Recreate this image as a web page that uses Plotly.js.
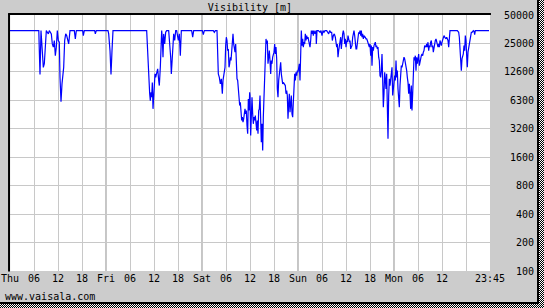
<!DOCTYPE html>
<html>
<head>
<meta charset="utf-8">
<script src="https://cdn.plot.ly/plotly-3.0.1.min.js"></script>
<style>
html,body{margin:0;padding:0;}
body{width:544px;height:308px;overflow:hidden;
  background:repeating-conic-gradient(#000 0% 25%, #fff 0% 50%) 0 0/2px 2px;}
#frame{width:537px;height:302px;border-right:2px solid #000;border-bottom:2px solid #000;background:#cccccc;}
#chart{width:537px;height:302px;}
</style>
</head>
<body>
<div id="frame"><div id="chart"></div></div>
<script>
// Time axis: hours since Thu 00:00
const xTickHours = [0,6,12,18,24,30,36,42,48,54,60,66,72,78,84,90,96,102,108,114,120];
const xTickText  = ['Thu','06','12','18','Fri','06','12','18','Sat','06','12','18','Sun','06','12','18','Mon','06','12','','23:45'];
const dayLines   = [24,48,72,96];

// Visibility axis (log, each grid step doubles)
const yTickVals = [100,200,400,800,1600,3200,6400,12800,25600,51200];
const yTickText = ['100','200','400','800','1600','3200','6300','12600','25000','50000'];

// Visibility readings [m]
const hoursThu = [0,7.2,7.33,7.5,7.75,8.08,8.33,8.58,8.83,9.08,9.33,9.58,9.83,10.08,10.33,10.58,10.83,11.08,11.33,11.58,11.83,12.08,12.33,12.5,12.75,13.0,13.17,13.42,13.67,13.92,14.17,14.42,14.67,15.0,16.08,16.33,16.58,18.17,18.33,18.58,21.17,21.33,21.58];
const visThu   = [35000,35000,21500,12000,35000,21500,14300,15600,25300,35000,33600,32300,35000,33600,32300,25300,23400,27500,19000,23400,35000,27500,26400,11200,6200,9550,11200,14300,27500,32300,31000,26400,25300,35000,35000,28600,35000,35000,31000,35000,35000,32300,35000];

const hoursFri = [24.5,24.67,25.0,25.25,25.5,25.75,34.17,34.33,34.58,34.75,34.92,35.08,35.25,35.42,35.58,35.75,35.92,36.08,36.25,36.42,36.67,36.92,37.17,37.33,37.58,37.75,37.92,38.08,38.25,38.42,38.67,38.92,39.17,39.67,39.92,40.17,40.33,40.5,40.75,40.92,41.17,41.42,41.67,42.08,42.33,42.58,42.83,45.42,45.67,45.92];
const visFri   = [35000,32300,21500,12000,21500,35000,35000,23400,14300,9550,7500,6360,7800,6900,9900,5200,7200,10800,12200,11200,12700,13800,10400,9170,14300,22400,35000,28600,18300,32300,25300,33600,35000,35000,27500,18300,12200,18300,23400,32300,27500,35000,35000,27500,32300,19000,35000,35000,29800,35000];

const hoursSatA = [48.08,48.33,48.58,50.83,51.08,51.33,51.75,51.92,52.08,52.33,52.58,52.83,53.08,53.25,53.5,53.75,53.92,54.08,54.25,54.42,54.58,54.75,54.92,55.08,55.25,55.42,55.58,55.75,55.92,56.08,56.25,56.42,56.58,56.75,56.92,57.08,57.25,57.42,57.58,57.75,57.92,58.08,58.25,58.42,58.58,58.75,58.92,59.08,59.25,59.42,59.58,59.75,59.92];
const visSatA   = [35000,31800,35000,35000,33600,35000,35000,21500,12200,11200,9550,10800,7500,10400,12700,14300,24300,29800,27500,21500,22400,14300,15600,18300,16900,20700,28600,32300,25300,23400,20700,25300,15600,10800,10400,7800,6360,5640,6110,4990,3920,4250,3760,4080,4990,5200,4600,4990,3470,2830,6600,4990,7800];

const hoursSatB = [
  60.0,60.17,60.33,60.5,60.67,60.83,
  61.0,61.17,61.33,61.5,61.67,61.83,
  62.0,62.17,62.33,62.5,62.67,62.83,
  63.0,63.17,63.33,63.5,63.67,63.83,
  64.0,64.17,64.33,64.5,64.67,64.83,
  65.0,65.17,65.33,65.5,65.67,65.83,
  66.0,66.17,66.33,66.5,66.67,66.83,
  67.0,67.17,67.33,67.5,67.67,67.83,
  68.0,68.17,68.33,68.5,68.67,68.83,
  69.0,69.17,69.33,69.5,69.67,69.83,
  70.0,70.17,70.33,70.5,70.67,70.83,
  71.0,71.17,71.33,71.5,71.67,71.83];
const visSatB = [
  7200,2720,5870,6900,4600,3610,
  4250,3920,4420,3760,3070,3920,
  2830,4990,5200,7200,4600,2310,
  3610,1880,4250,7500,13200,22400,
  28600,25300,27500,15600,18300,21500,
  16900,12200,16900,15600,18300,19800,
  20700,25300,19800,23400,17600,8460,
  6900,10400,12200,14300,16200,12200,
  9900,9550,9900,9550,9170,9170,
  7500,8120,7200,4080,5870,7500,
  4790,5870,7200,4600,4250,6110,
  8460,12200,10400,12700,11700,13200];

const hoursSun = [
  72.0,72.17,72.33,72.5,72.67,72.83,
  73.0,73.17,73.33,73.5,73.67,73.83,
  74.0,74.17,74.33,74.5,74.67,74.83,
  75.0,75.17,75.33,75.5,75.67,75.83,
  76.0,76.25,76.5,76.58,76.75,77.08,
  77.5,77.75,78.0,78.25,78.5,78.75,
  79.17,79.42,79.67,79.92,80.17,80.42,
  80.58,80.83,81.08,81.33,81.5,81.67,
  81.83,82.0,82.17,82.33,82.5,82.67,
  82.83,83.0,83.17,83.33,83.5,83.67,
  83.83,84.0,84.17,84.33,84.5,84.67,
  84.83,85.0,85.17,85.33,85.5,85.67,
  85.83,86.0,86.17,86.33,86.5,86.67,
  86.83,87.0,87.17,87.33,87.5,87.67,
  87.83,88.0,88.17,88.33,88.5,88.67,
  88.83,89.0,89.17,89.33,89.5,89.67,
  89.83];
const visSun = [
  12700,14300,15600,10400,19000,35000,
  24300,28600,23400,26400,25300,32300,
  27500,31000,28600,29800,27500,25300,
  23400,27500,35000,32300,35000,31000,
  35000,32300,35000,25300,35000,35000,
  33600,35000,31000,35000,33600,35000,
  35000,33600,32300,35000,33600,33600,
  27500,31000,32300,29800,26400,23400,
  25300,18300,21500,24300,27500,29800,
  22400,29800,32300,35000,32300,25300,
  28600,23400,27500,26400,31000,28600,
  26400,27500,22400,23400,24300,29800,
  32300,35000,31000,25300,22400,22400,
  27500,31000,33600,32300,35000,31000,
  35000,29800,32300,28600,31000,29800,
  29800,28600,28600,27500,26400,25300,
  23400];

const hoursMonA = [
  90.0,90.17,90.33,90.5,90.67,90.83,
  91.0,91.17,91.33,91.5,91.67,91.83,
  92.0,92.17,92.33,92.5,92.67,92.83,
  93.0,93.17,93.33,93.5,93.67,93.83,
  94.0,94.17,94.33,94.5,94.67,94.83,
  95.0,95.17,95.33,95.5,95.67,95.83,
  96.0,96.17,96.33,96.5,96.67,96.83,
  97.0,97.17,97.33,97.5,97.67,97.83,
  98.0,98.17,98.33,98.5,98.67,98.83,
  99.0,99.17,99.33,99.5,99.67,99.83,
  100.0,100.17,100.33,100.5,100.67,100.83,
  101.0,101.17,101.33,101.5,101.67,101.83,
  102.0,102.17,102.33,102.5,102.67,102.83,
  103.0,103.17,103.33,103.5,103.67,103.83,
  104.0,104.17,104.33,104.5,104.67,104.83,
  105.0,105.17,105.33,105.5,105.67,105.83,
  106.0,106.17,106.33,106.5,106.67,106.83,
  107.0,107.17,107.33,107.5,107.67,107.83,
  108.0,108.17,108.33,108.5,108.67,108.83,
  109.0,109.17,109.33,109.5,109.67,109.83];
const visMonA = [
  25300,19000,24300,14900,23400,21500,
  24300,25300,26400,23400,24300,22400,
  23400,18300,16900,11700,11200,13200,
  19800,10800,5410,7500,12700,10800,
  8460,12200,4600,2510,7200,10800,
  9170,10400,11200,14300,7200,9170,
  10800,11700,10400,16900,11200,13200,
  8460,7200,5410,9170,14300,14900,
  14300,16200,16900,18300,17600,16200,
  14900,13200,11200,9900,7500,9550,
  7500,5200,9170,4990,7500,11700,
  18300,16900,19000,13200,18300,15600,
  18300,19800,14900,16900,17600,19000,
  19800,19000,20700,21500,24300,23400,
  23400,25300,23400,26400,21500,24300,
  23400,26400,27500,23400,24300,20700,
  23400,23400,27500,28600,26400,24300,
  23400,25300,23400,27500,26400,24300,
  26400,27500,28600,31000,29800,29300,
  28600,29800,28600,27500,23400,33600];

const hoursMonB = [110.0,111.83,112.17,112.33,112.5,112.67,112.83,113.0,113.17,113.33,113.5,113.67,113.83,114.0,114.17,114.33,114.5,114.67,114.83,115.0,115.17,115.33,115.5,115.67,115.83,116.0,116.17,116.33,119.75];
const visMonB   = [35000,35000,33600,29800,19800,18300,13200,17600,19000,19800,24300,21500,31000,27500,19000,14300,20700,23400,25300,26400,29800,33600,33600,35000,35000,34500,31800,35000,35000];

const hours = [].concat(hoursThu, hoursFri, hoursSatA, hoursSatB, hoursSun, hoursMonA, hoursMonB);
const visibility = [].concat(visThu, visFri, visSatA, visSatB, visSun, visMonA, visMonB);

const mono = 'DejaVu Sans Mono, monospace';
const pad5 = s => '\u00a0'.repeat(Math.max(0, 5 - s.length)) + s;

const trace = {
  x: hours, y: visibility, type: 'scatter', mode: 'lines',
  line: {color: '#0000ff', width: 1.2, shape: 'linear'},
  hoverinfo: 'skip'
};

const shapes = dayLines.map(d => ({
  type: 'line', xref: 'x', yref: 'paper', x0: d, x1: d, y0: 0, y1: 1,
  line: {color: '#8c8c8c', width: 1}, layer: 'between'
}));
// plot frame (top and left dark edges)
shapes.push({type:'line', xref:'paper', yref:'paper', x0:-0.004, x1:1.002, y0:1.004, y1:1.004, line:{color:'#000', width:2}, layer:'above'});
shapes.push({type:'line', xref:'paper', yref:'paper', x0:-0.002, x1:-0.002, y0:-0.002, y1:1.004, line:{color:'#000', width:2}, layer:'above'});

const layout = {
  width: 537, height: 302,
  margin: {l: 10, r: 47, t: 15, b: 31, pad: 0},
  paper_bgcolor: '#cccccc', plot_bgcolor: '#ffffff',
  showlegend: false,
  font: {family: mono, size: 10, color: '#000'},
  title: {text: 'Visibility [m]', font: {family: mono, size: 10, color: '#000'},
          xref: 'paper', x: 0.5, xanchor: 'center', yref: 'container', y: 1 - 7/302, yanchor: 'middle'},
  xaxis: {
    range: [0, 120], tickmode: 'array', tickvals: xTickHours, ticktext: xTickText,
    showgrid: true, gridcolor: '#c8c8c8', gridwidth: 1, zeroline: false, showline: false,
    ticks: '', tickfont: {family: mono, size: 10, color: '#000'}, fixedrange: true
  },
  yaxis: {
    type: 'log', range: [2, Math.log10(51200)], side: 'right',
    tickmode: 'array', tickvals: yTickVals, ticktext: yTickText.map(pad5),
    showgrid: true, gridcolor: '#c8c8c8', gridwidth: 1, zeroline: false, showline: false,
    ticks: '', ticklabelstandoff: 13, tickfont: {family: mono, size: 10, color: '#000'}, fixedrange: true
  },
  shapes: shapes,
  annotations: [{
    text: 'www.vaisala.com', xref: 'paper', yref: 'paper',
    x: -7/480, xanchor: 'left', y: (271 - 296) / 256, yanchor: 'middle',
    showarrow: false, font: {family: mono, size: 10, color: '#000'}
  }]
};

Plotly.newPlot('chart', [trace], layout, {staticPlot: true, displayModeBar: false});
</script>
</body>
</html>
